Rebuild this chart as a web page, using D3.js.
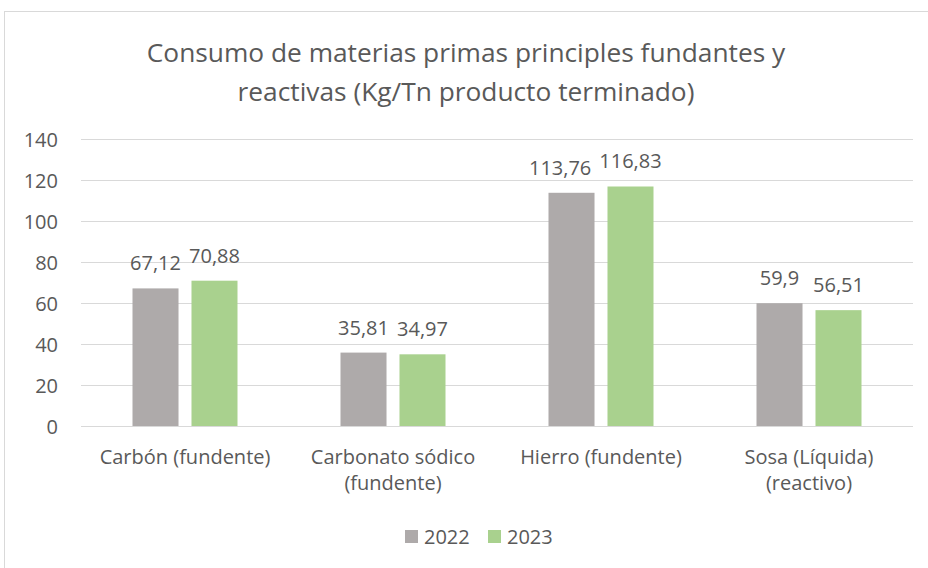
<!DOCTYPE html>
<html>
<head>
<meta charset="utf-8">
<script src="https://cdn.jsdelivr.net/npm/d3@7"></script>
<style>
  body { margin: 0; background: #fff; }
  text { font-family: "Open Sans", Calibri, sans-serif; fill: #595959; }
</style>
</head>
<body>
<svg id="chart" width="928" height="568"></svg>
<script>
// data
var categories = [['Carbón (fundente)'], ['Carbonato sódico', '(fundente)'], ['Hierro (fundente)'], ['Sosa (Líquida)', '(reactivo)']];
var years = ['2022', '2023'];
var values2022 = [67.12, 35.81, 113.76, 59.9];
var values2023 = [70.88, 34.97, 116.83, 56.51];
var yTicks = [0, 20, 40, 60, 80, 100, 120, 140];
var titleLines = ['Consumo de materias primas principles fundantes y', 'reactivas (Kg/Tn producto terminado)'];
var colors = ['#AEAAAA', '#A9D18E'];

var svg = d3.select('#chart');

// chart area border
svg.append('rect')
    .attr('x', 4.5).attr('y', 11.5)
    .attr('width', 1000).attr('height', 1000)
    .attr('fill', '#fff')
    .attr('stroke', '#D9D9D9');

// title
svg.append('g').selectAll('text')
    .data(titleLines)
    .enter().append('text')
    .attr('x', 466)
    .attr('y', function (d, i) { return 62 + i * 39; })
    .attr('text-anchor', 'middle')
    .style('font-size', '26.3px')
    .text(function (d) { return d; });

var plotLeft = 81, plotRight = 913, plotTop = 139, plotBottom = 426;

var x = d3.scaleBand().domain(d3.range(categories.length)).range([plotLeft, plotRight]);
var x1 = d3.scaleBand().domain(years).range([0, 105]).paddingInner(0.22);
var y = d3.scaleLinear().domain([0, 140]).range([plotBottom, plotTop]);

// gridlines
svg.append('g').selectAll('line')
    .data(yTicks)
    .enter().append('line')
    .attr('x1', plotLeft).attr('x2', plotRight)
    .attr('y1', function (d) { return Math.round(y(d)) + 0.5; })
    .attr('y2', function (d) { return Math.round(y(d)) + 0.5; })
    .attr('stroke', '#D9D9D9')
    .attr('stroke-width', 1);

// y tick labels
svg.append('g').selectAll('text')
    .data(yTicks)
    .enter().append('text')
    .attr('x', 58)
    .attr('y', function (d) { return y(d) + 7.5; })
    .attr('text-anchor', 'end')
    .style('font-size', '20px')
    .text(function (d) { return d; });

var series = [values2022, values2023];
var fmt = function (v) { return String(v).replace('.', ','); };
var barX = function (i, s) { return x(i) + x.bandwidth() / 2 - 52.5 + x1(years[s]); };

var labelNodes = [];
series.forEach(function (vals, s) {
    var g = svg.append('g');
    g.selectAll('rect')
        .data(vals)
        .enter().append('rect')
        .attr('x', function (d, i) { return barX(i, s); })
        .attr('y', function (d) { return y(d); })
        .attr('width', x1.bandwidth())
        .attr('height', function (d) { return y(0) - y(d); })
        .attr('fill', colors[s]);
    labelNodes.push(g.selectAll('text')
        .data(vals)
        .enter().append('text')
        .attr('x', function (d, i) { return barX(i, s) + x1.bandwidth() / 2; })
        .attr('y', function (d) { return y(d) - 18; })
        .attr('text-anchor', 'middle')
        .style('font-size', '20px')
        .text(fmt));
});

// push the 2022 label left when it would run into the 2023 one
var step = x1.step();
labelNodes[0].each(function (d, i) {
    var w0 = this.getComputedTextLength();
    var w1 = labelNodes[1].nodes()[i].getComputedTextLength();
    var shift = Math.max(0, (w0 + w1) / 2 + 8 - step);
    d3.select(this).attr('dx', -shift);
});

// category labels
var catG = svg.append('g').selectAll('g')
    .data(categories)
    .enter().append('g')
    .attr('transform', function (d, i) { return 'translate(' + (x(i) + x.bandwidth() / 2) + ',0)'; });
catG.selectAll('text')
    .data(function (d) { return d; })
    .enter().append('text')
    .attr('x', 0)
    .attr('y', function (d, j) { return 464 + j * 26; })
    .attr('text-anchor', 'middle')
    .style('font-size', '20px')
    .text(function (d) { return d; });

// legend
var legend = svg.append('g').selectAll('g')
    .data(years)
    .enter().append('g')
    .attr('transform', function (d, i) { return 'translate(' + (405 + i * 83) + ',530)'; });
legend.append('rect')
    .attr('width', 13).attr('height', 13)
    .attr('fill', function (d, i) { return colors[i]; });
legend.append('text')
    .attr('x', 19).attr('y', 14)
    .style('font-size', '20px')
    .text(function (d) { return d; });
</script>
</body>
</html>
